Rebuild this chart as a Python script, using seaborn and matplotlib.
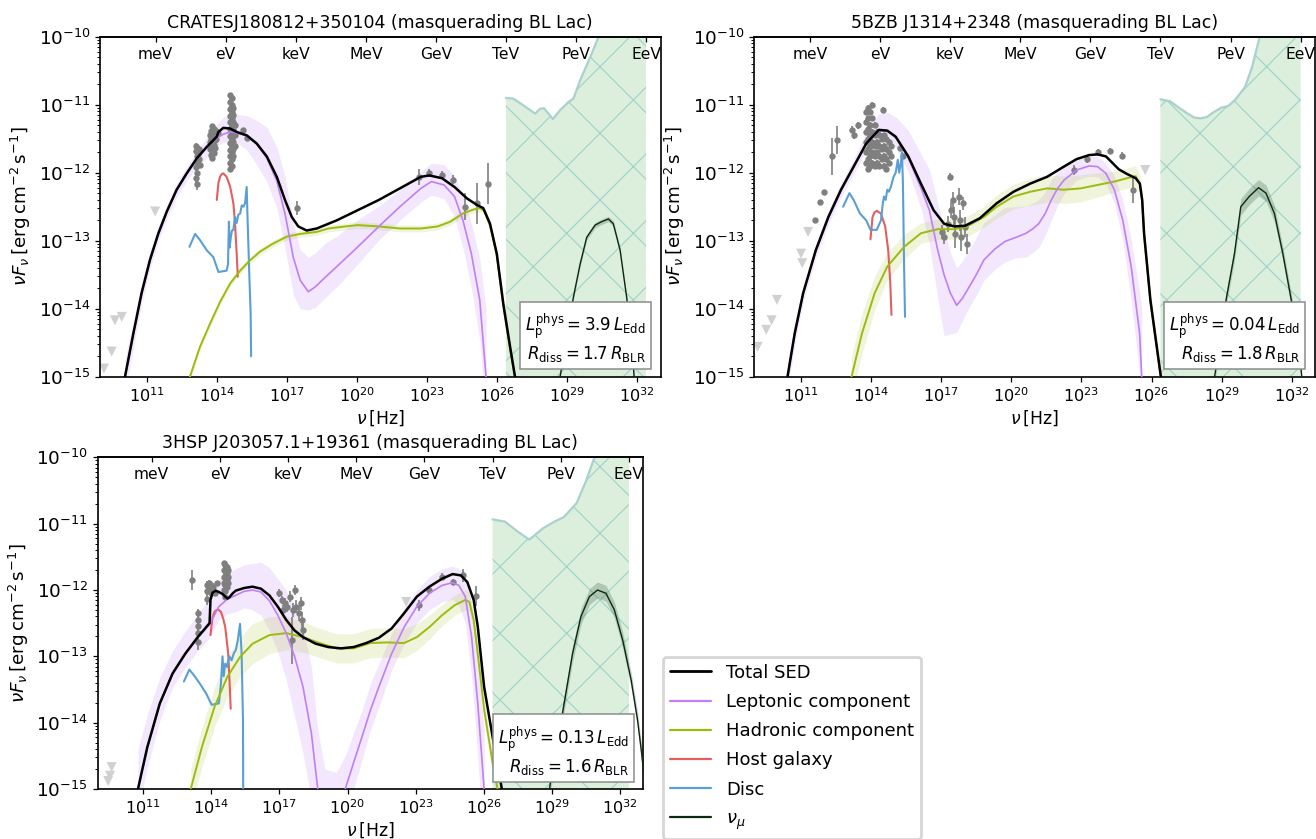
import numpy as np
import matplotlib
matplotlib.use("Agg")
import matplotlib.pyplot as plt
from matplotlib.lines import Line2D
from matplotlib.ticker import NullLocator, LogLocator
import seaborn as sns

sns.set_style("ticks", {"axes.edgecolor": "black", "xtick.color": "black", "ytick.color": "black",
                        "text.color": "black", "axes.labelcolor": "black"})
plt.rcParams["font.family"] = ["DejaVu Sans"]
plt.rcParams["mathtext.fontset"] = "dejavusans"
plt.rcParams["hatch.linewidth"] = 0.45

# every curve: (log10 nu [Hz], log10 nuFnu [erg cm^-2 s^-1])
titles = ["CRATESJ180812+350104 (masquerading BL Lac)",
          "5BZB J1314+2348 (masquerading BL Lac)",
          "3HSP J203057.1+19361 (masquerading BL Lac)"]
lp_phys = ["3.9", "0.04", "0.13"]
r_diss = ["1.7", "1.8", "1.6"]
energy_ticks = [1e-3, 1, 1e3, 1e6, 1e9, 1e12, 1e15, 1e18]
energy_labels = ["meV", "eV", "keV", "MeV", "GeV", "TeV", "PeV", "EeV"]

# ---------------- panel 1 ----------------
tot1 = [(10.07, -15.0), (10.43, -14.36), (10.78, -13.77), (11.14, -13.28), (11.50, -12.89), (11.86, -12.57),
        (12.28, -12.25), (12.71, -12.01), (13.14, -11.79), (13.57, -11.62), (14.0, -11.47), (14.07, -11.40),
        (14.28, -11.34), (14.57, -11.35), (14.85, -11.40), (15.28, -11.45), (15.71, -11.57), (16.14, -11.76),
        (16.57, -12.06), (16.92, -12.40), (17.21, -12.65), (17.49, -12.79), (17.85, -12.85), (18.28, -12.82),
        (19.14, -12.70), (20.04, -12.55), (20.94, -12.40), (21.84, -12.23), (22.74, -12.06), (23.10, -12.04),
        (23.64, -12.08), (24.18, -12.21), (24.72, -12.38), (25.17, -12.48), (25.41, -12.52), (25.70, -12.75),
        (25.99, -13.19), (26.27, -13.93), (26.56, -14.56), (26.77, -15.0)]
lep1 = [(10.07, -15.0), (10.43, -14.37), (10.78, -13.78), (11.14, -13.29), (11.50, -12.90), (11.86, -12.58),
        (12.28, -12.26), (12.71, -12.02), (13.14, -11.80), (13.57, -11.63), (14.0, -11.49), (14.3, -11.43),
        (14.6, -11.40), (14.9, -11.42), (15.28, -11.46), (15.71, -11.58), (16.14, -11.78), (16.57, -12.12),
        (16.92, -12.60), (17.28, -13.25), (17.57, -13.58), (17.92, -13.75), (18.21, -13.68), (18.7, -13.52),
        (19.14, -13.38), (20.04, -13.09), (20.94, -12.79), (21.84, -12.50), (22.74, -12.23), (23.19, -12.13),
        (23.73, -12.18), (24.18, -12.35), (24.54, -12.70), (24.90, -13.19), (25.26, -13.87), (25.53, -15.0)]
lep1_dhi = [0.25, 0.2, 0.15, 0.12, 0.1, 0.1, 0.1, 0.1, 0.12, 0.15, 0.2, 0.25, 0.25, 0.28, 0.3, 0.35, 0.45, 0.5,
            0.55, 0.5, 0.45, 0.5, 0.5, 0.5, 0.45, 0.4, 0.3, 0.25, 0.25, 0.27, 0.3, 0.3, 0.35, 0.45, 0.6, 1.0]
lep1_dlo = [0.25, 0.2, 0.15, 0.12, 0.1, 0.1, 0.1, 0.1, 0.12, 0.15, 0.12, 0.12, 0.12, 0.15, 0.2, 0.3, 0.35, 0.4,
            0.5, 0.55, 0.42, 0.27, 0.3, 0.3, 0.3, 0.25, 0.2, 0.2, 0.2, 0.2, 0.2, 0.3, 0.4, 0.5, 0.6, 0.5]
had1 = [(12.85, -15.0), (13.28, -14.56), (13.71, -14.22), (14.14, -13.90), (14.57, -13.63), (15.0, -13.44),
        (15.42, -13.29), (15.85, -13.16), (16.42, -13.04), (17.0, -12.94), (17.57, -12.90), (18.28, -12.87),
        (18.78, -12.82), (19.5, -12.79), (20.04, -12.77), (20.94, -12.79), (21.84, -12.82), (22.74, -12.82),
        (23.46, -12.79), (24.0, -12.72), (24.54, -12.60), (25.0, -12.54), (25.27, -12.52), (25.45, -12.56),
        (25.70, -12.78), (25.99, -13.22), (26.27, -13.96), (26.56, -14.6), (26.76, -15.0)]
had1_d = 0.05
host1 = [(14.0, -12.40), (14.07, -12.15), (14.14, -12.06), (14.21, -12.02), (14.28, -12.01), (14.42, -12.06),
         (14.57, -12.20), (14.71, -12.45), (14.78, -12.74), (14.85, -13.18), (14.90, -13.53)]
disc1 = [(12.83, -13.09), (13.07, -12.90), (13.28, -12.99), (13.57, -13.14), (13.85, -13.24), (14.07, -13.46),
         (14.42, -13.44), (14.48, -13.35), (14.52, -12.72), (14.55, -13.1), (14.6, -12.95), (14.65, -12.85),
         (14.71, -12.84), (14.78, -12.65), (14.85, -12.74), (14.92, -12.62), (15.0, -12.60), (15.07, -12.48),
         (15.14, -12.50), (15.21, -12.45), (15.28, -12.21), (15.32, -12.70), (15.40, -13.58), (15.45, -14.07),
         (15.47, -14.70)]
nu1 = [(28.70, -15.0), (28.99, -14.42), (29.27, -13.83), (29.56, -13.34), (29.84, -12.95), (30.20, -12.77),
       (30.48, -12.72), (30.77, -12.68), (30.98, -12.75), (31.27, -13.14), (31.55, -13.83), (31.77, -14.51),
       (31.87, -15.0)]
nu1_d = 0.04
sens1 = [(26.38, -10.90), (26.70, -10.91), (27.13, -11.01), (27.63, -11.13), (27.84, -11.06), (28.01, -11.05),
         (28.39, -11.21), (28.70, -11.08), (29.06, -10.96), (29.27, -10.91), (29.56, -10.64), (29.99, -10.30),
         (30.35, -10.0), (31.3, -9.5), (32.38, -9.0)]
ul1 = [(11.36, -12.57), (9.64, -14.17), (9.93, -14.12), (9.50, -14.63), (9.17, -14.88)]
# data points: (log nu, log nuFnu, log error)
pts1 = [(13.10, -11.60, 0.04), (13.12, -11.68, 0.04), (13.14, -11.76, 0.04), (13.16, -11.84, 0.04),
        (13.12, -11.92, 0.05), (13.15, -12.00, 0.06), (13.13, -12.08, 0.08), (13.14, -12.16, 0.1),
        (13.20, -11.72, 0.04), (13.24, -11.80, 0.04), (13.27, -11.88, 0.04), (13.22, -11.65, 0.04),
        (13.72, -11.45, 0.04), (13.72, -11.55, 0.04), (13.72, -11.65, 0.04), (13.75, -11.38, 0.04),
        (13.75, -11.50, 0.04), (13.75, -11.62, 0.04), (13.75, -11.74, 0.04), (13.80, -11.32, 0.04),
        (13.80, -11.44, 0.04), (13.80, -11.56, 0.04), (13.80, -11.68, 0.04), (13.80, -11.78, 0.04),
        (13.86, -11.35, 0.04), (13.86, -11.47, 0.04), (13.86, -11.59, 0.04), (13.86, -11.71, 0.04),
        (13.92, -11.40, 0.04), (13.92, -11.52, 0.04), (13.92, -11.64, 0.04), (13.98, -11.38, 0.04),
        (13.98, -11.50, 0.04), (14.04, -11.42, 0.04),
        (14.57, -10.86, 0.04), (14.57, -10.96, 0.04), (14.57, -11.06, 0.04), (14.57, -11.16, 0.04),
        (14.57, -11.26, 0.04), (14.57, -11.36, 0.04), (14.57, -11.46, 0.04), (14.57, -11.56, 0.04),
        (14.57, -11.66, 0.04), (14.57, -11.76, 0.04), (14.57, -11.86, 0.04), (14.57, -11.94, 0.04),
        (14.64, -10.90, 0.04), (14.64, -11.00, 0.04), (14.64, -11.10, 0.04), (14.64, -11.20, 0.04),
        (14.64, -11.30, 0.04), (14.64, -11.40, 0.04), (14.64, -11.50, 0.04), (14.64, -11.60, 0.04),
        (14.64, -11.70, 0.04), (14.64, -11.80, 0.04), (14.64, -11.90, 0.04),
        (14.71, -11.05, 0.04), (14.71, -11.15, 0.04), (14.71, -11.25, 0.04), (14.71, -11.35, 0.04),
        (14.71, -11.45, 0.04), (14.71, -11.55, 0.04), (14.71, -11.65, 0.04), (14.71, -11.75, 0.04),
        (14.78, -11.30, 0.04), (14.78, -11.45, 0.04), (14.78, -11.60, 0.04),
        (15.14, -11.37, 0.03), (15.28, -11.49, 0.03), (17.42, -12.52, 0.1),
        (22.65, -12.06, 0.12), (23.10, -12.00, 0.06), (23.64, -12.03, 0.06), (24.10, -12.10, 0.06),
        (24.63, -12.50, 0.2), (25.14, -12.45, 0.3), (25.63, -12.16, 0.3)]

# ---------------- panel 2 ----------------
tot2 = [(10.42, -15.0), (10.73, -14.36), (11.09, -13.77), (11.63, -13.14), (12.17, -12.65), (12.71, -12.25),
        (13.25, -11.91), (13.79, -11.57), (14.33, -11.37), (14.69, -11.38), (15.05, -11.47), (15.59, -11.76),
        (16.13, -12.16), (16.67, -12.55), (17.12, -12.75), (17.57, -12.79), (18.02, -12.78), (18.65, -12.67),
        (19.37, -12.45), (20.09, -12.28), (20.81, -12.16), (21.53, -12.06), (22.25, -11.91), (22.79, -11.80),
        (23.33, -11.74), (23.69, -11.73), (24.05, -11.76), (24.60, -11.95), (24.96, -12.02), (25.32, -12.08),
        (25.50, -12.16), (25.60, -12.40), (25.68, -12.89), (25.95, -13.87), (26.20, -14.5), (26.40, -15.0)]
lep2 = [(10.42, -15.0), (10.73, -14.37), (11.09, -13.78), (11.63, -13.15), (12.17, -12.66), (12.71, -12.26),
        (13.25, -11.92), (13.79, -11.58), (14.33, -11.38), (14.69, -11.39), (15.05, -11.48), (15.59, -11.78),
        (16.13, -12.22), (16.49, -12.55), (16.85, -13.14), (17.12, -13.50), (17.39, -13.77), (17.66, -13.95),
        (17.90, -13.85), (18.11, -13.73), (18.50, -13.50), (18.83, -13.28), (19.30, -13.12), (19.73, -13.01),
        (20.20, -12.95), (20.63, -12.89), (20.90, -12.83), (21.17, -12.75), (21.45, -12.60), (21.71, -12.40),
        (21.98, -12.23), (22.25, -12.11), (22.79, -11.96), (23.33, -11.90), (23.69, -11.91), (24.05, -12.01),
        (24.41, -12.25), (24.77, -12.70), (25.13, -13.38), (25.49, -14.36), (25.58, -15.0)]
lep2_dhi = [0.2, 0.15, 0.12, 0.1, 0.1, 0.1, 0.12, 0.18, 0.25, 0.28, 0.3, 0.4, 0.5, 0.6, 0.7, 0.7, 0.6, 0.55,
            0.55, 0.55, 0.55, 0.55, 0.5, 0.5, 0.45, 0.4, 0.38, 0.35, 0.32, 0.3, 0.25, 0.2, 0.15, 0.15, 0.15, 0.15,
            0.2, 0.3, 0.4, 0.6, 1.0]
lep2_dlo = [0.2, 0.15, 0.12, 0.1, 0.1, 0.1, 0.1, 0.1, 0.1, 0.12, 0.15, 0.2, 0.3, 0.5, 0.7, 0.9, 0.6, 0.4,
            0.33, 0.3, 0.3, 0.3, 0.3, 0.3, 0.3, 0.35, 0.35, 0.35, 0.32, 0.3, 0.25, 0.2, 0.15, 0.15, 0.15, 0.15,
            0.2, 0.3, 0.5, 0.6, 0.5]
had2 = [(13.16, -15.0), (13.61, -14.36), (14.15, -13.77), (14.69, -13.38), (15.41, -13.09), (16.13, -12.89),
        (16.85, -12.83), (17.57, -12.83), (18.11, -12.79), (18.83, -12.65), (19.37, -12.50), (20.09, -12.35),
        (20.81, -12.28), (21.53, -12.23), (22.25, -12.25), (22.97, -12.23), (23.69, -12.18), (24.41, -12.13),
        (24.96, -12.08), (25.32, -12.05), (25.50, -12.17), (25.60, -12.42), (25.68, -12.9), (25.95, -13.88),
        (26.20, -14.5), (26.39, -15.0)]
had2_d = [0.3, 0.3, 0.25, 0.2, 0.18, 0.15, 0.15, 0.15, 0.15, 0.15, 0.17, 0.18, 0.2, 0.2, 0.2, 0.2, 0.18, 0.15,
          0.15, 0.15, 0.15, 0.15, 0.15, 0.15, 0.15, 0.15]
host2 = [(13.97, -12.98), (14.06, -12.65), (14.15, -12.58), (14.24, -12.56), (14.42, -12.60), (14.60, -12.79),
         (14.73, -13.14), (14.82, -13.63), (14.87, -14.09)]
disc2 = [(12.80, -12.50), (13.07, -12.30), (13.25, -12.40), (13.52, -12.60), (13.79, -12.70), (13.97, -12.84),
         (14.24, -12.84), (14.42, -12.70), (14.50, -12.45), (14.55, -12.35), (14.62, -12.40), (14.69, -12.25),
         (14.76, -12.28), (14.84, -12.21), (14.96, -12.06), (15.05, -12.0), (15.14, -11.81), (15.20, -12.0),
         (15.27, -11.86), (15.32, -11.70), (15.36, -12.16), (15.41, -13.38), (15.45, -14.12)]
nu2 = [(28.70, -15.0), (29.19, -13.87), (29.55, -13.19), (29.82, -12.50), (30.18, -12.35), (30.58, -12.22),
       (30.90, -12.30), (31.26, -12.60), (31.62, -13.19), (31.98, -13.87), (32.25, -14.41), (32.43, -15.0)]
nu2_d = [0.1, 0.1, 0.1, 0.12, 0.12, 0.12, 0.12, 0.12, 0.1, 0.1, 0.1, 0.1]
sens2 = [(26.38, -10.92), (26.80, -10.95), (27.12, -11.03), (27.50, -11.12), (27.84, -11.19), (28.10, -11.20),
         (28.37, -11.18), (28.70, -11.10), (29.01, -11.04), (29.28, -11.02), (29.60, -10.92), (30.0, -10.74),
         (30.30, -10.45), (30.63, -10.0), (31.5, -9.5), (32.38, -9.0)]
ul2 = [(9.14, -14.56), (9.51, -14.31), (9.74, -14.17), (9.97, -13.87), (11.0, -13.19), (11.05, -13.33),
       (11.30, -12.87), (25.73, -11.96)]
pts2 = [(11.59, -12.70, 0.03), (11.81, -12.43, 0.03), (11.99, -12.28, 0.03), (12.31, -11.76, 0.27),
        (12.53, -11.52, 0.2), (13.16, -11.37, 0.05), (13.25, -11.45, 0.05), (13.43, -11.30, 0.05),
        (13.80, -11.10, 0.04), (13.80, -11.25, 0.04), (13.80, -11.40, 0.04), (13.80, -11.55, 0.04),
        (13.80, -11.70, 0.04), (13.80, -11.85, 0.04),
        (13.88, -11.05, 0.04), (13.88, -11.20, 0.04), (13.88, -11.35, 0.04), (13.88, -11.50, 0.04),
        (13.88, -11.65, 0.04), (13.88, -11.80, 0.04), (13.88, -11.95, 0.04),
        (13.96, -11.10, 0.04), (13.96, -11.30, 0.04), (13.96, -11.45, 0.04), (13.96, -11.60, 0.04),
        (13.96, -11.75, 0.04), (13.96, -11.90, 0.04),
        (14.05, -11.00, 0.04), (14.05, -11.20, 0.04), (14.05, -11.40, 0.04), (14.05, -11.55, 0.04),
        (14.05, -11.70, 0.04), (14.05, -11.85, 0.04),
        (14.15, -11.30, 0.04), (14.15, -11.45, 0.04), (14.15, -11.60, 0.04), (14.15, -11.75, 0.04),
        (14.15, -11.90, 0.04), (14.25, -11.40, 0.04), (14.25, -11.55, 0.04), (14.25, -11.70, 0.04),
        (14.25, -11.85, 0.04), (14.35, -11.45, 0.04), (14.35, -11.60, 0.04), (14.35, -11.75, 0.04),
        (14.35, -11.90, 0.04), (14.45, -11.50, 0.04), (14.45, -11.65, 0.04), (14.45, -11.80, 0.04),
        (14.51, -11.08, 0.04), (14.55, -11.45, 0.04), (14.55, -11.60, 0.04), (14.55, -11.75, 0.04),
        (14.55, -11.90, 0.04), (14.65, -11.50, 0.04), (14.65, -11.65, 0.04), (14.65, -11.80, 0.04),
        (14.65, -11.95, 0.04), (14.75, -11.55, 0.04), (14.75, -11.70, 0.04), (14.75, -11.85, 0.04),
        (14.85, -11.60, 0.04), (14.85, -11.75, 0.04),
        (15.23, -11.64, 0.03), (15.37, -11.76, 0.03),
        (17.03, -12.87, 0.1), (17.10, -12.95, 0.1), (17.39, -12.06, 0.05), (17.42, -12.55, 0.12),
        (17.50, -12.40, 0.12), (17.55, -12.65, 0.15), (17.60, -12.90, 0.2), (17.75, -12.35, 0.12),
        (17.80, -12.70, 0.15), (17.85, -12.95, 0.2), (18.0, -12.80, 0.15), (18.1, -13.05, 0.15),
        (17.30, -12.75, 0.12), (17.95, -12.45, 0.1),
        (22.70, -11.96, 0.08), (23.24, -11.80, 0.05), (23.69, -11.69, 0.04), (24.23, -11.68, 0.04),
        (24.72, -11.75, 0.05), (25.22, -12.25, 0.2)]

# ---------------- panel 3 ----------------
tot3 = [(10.78, -15.0), (11.19, -14.37), (11.74, -13.71), (12.30, -13.26), (12.86, -12.96), (13.41, -12.71),
        (13.93, -12.50), (13.97, -12.15), (14.06, -12.04), (14.20, -12.01), (14.34, -12.03), (14.50, -12.06),
        (14.62, -12.10), (14.72, -12.13), (14.80, -12.11), (14.95, -12.05), (15.08, -12.01), (15.45, -11.97),
        (15.82, -11.95), (16.19, -11.98), (16.56, -12.08), (16.93, -12.25), (17.30, -12.45), (17.67, -12.61),
        (18.04, -12.71), (18.60, -12.81), (19.15, -12.86), (19.71, -12.88), (20.27, -12.86), (20.82, -12.80),
        (21.38, -12.72), (21.94, -12.58), (22.49, -12.35), (23.05, -12.10), (23.60, -11.95), (24.16, -11.83),
        (24.62, -11.76), (24.99, -11.78), (25.27, -11.88), (25.55, -12.15), (25.73, -12.55), (26.01, -13.46),
        (26.38, -14.21), (26.79, -15.0)]
lep3 = [(10.78, -15.0), (11.19, -14.38), (11.74, -13.72), (12.30, -13.27), (12.86, -12.97), (13.41, -12.72),
        (13.93, -12.52), (14.34, -12.25), (14.70, -12.14), (15.08, -12.08), (15.45, -12.02), (15.82, -12.00),
        (16.19, -12.03), (16.56, -12.16), (16.93, -12.38), (17.30, -12.65), (17.67, -13.00), (18.04, -13.46),
        (18.41, -14.16), (18.69, -15.0), (19.0, -15.6), (19.5, -15.7), (19.90, -15.0), (20.27, -14.6),
        (20.64, -14.21), (21.0, -13.82), (21.38, -13.46), (21.94, -12.96), (22.49, -12.56), (23.05, -12.25),
        (23.60, -12.05), (24.16, -11.93), (24.62, -11.89), (24.90, -11.93), (25.18, -12.10), (25.46, -12.71),
        (25.73, -13.71), (26.01, -15.0)]
lep3_dhi = [0.6, 0.5, 0.4, 0.35, 0.35, 0.35, 0.4, 0.4, 0.4, 0.4, 0.4, 0.4, 0.45, 0.5, 0.55, 0.65, 0.75, 0.9,
            1.0, 0.9, 0.9, 0.95, 0.5, 0.45, 0.4, 0.4, 0.35, 0.3, 0.3, 0.25, 0.25, 0.25, 0.25, 0.25, 0.3, 0.5,
            0.7, 0.9]
lep3_dlo = [0.3, 0.3, 0.25, 0.2, 0.2, 0.2, 0.2, 0.2, 0.22, 0.25, 0.25, 0.3, 0.35, 0.45, 0.55, 0.7, 0.9, 1.0,
            1.0, 1.0, 0.5, 0.5, 0.5, 0.4, 0.35, 0.3, 0.3, 0.25, 0.25, 0.25, 0.25, 0.25, 0.25, 0.3, 0.4, 0.6,
            0.8, 1.0]
had3 = [(13.10, -15.0), (13.60, -14.36), (14.15, -13.76), (14.71, -13.31), (15.27, -13.01), (15.82, -12.81),
        (16.56, -12.68), (17.30, -12.65), (18.04, -12.71), (18.78, -12.80), (19.52, -12.88), (20.27, -12.88),
        (21.01, -12.80), (21.75, -12.79), (22.49, -12.80), (23.05, -12.71), (23.60, -12.56), (24.16, -12.38),
        (24.71, -12.23), (25.18, -12.15), (25.36, -12.18), (25.55, -12.45), (25.73, -12.96), (26.01, -13.8),
        (26.38, -14.6), (26.60, -15.0)]
had3_d = [0.3, 0.3, 0.3, 0.3, 0.3, 0.3, 0.28, 0.25, 0.23, 0.22, 0.22, 0.22, 0.22, 0.22, 0.22, 0.2, 0.18, 0.16,
          0.15, 0.15, 0.15, 0.15, 0.15, 0.15, 0.15, 0.15]
host3 = [(13.97, -12.68), (14.06, -12.41), (14.15, -12.33), (14.24, -12.30), (14.33, -12.30), (14.43, -12.33),
         (14.52, -12.42), (14.62, -12.56), (14.75, -12.96), (14.82, -13.46), (14.86, -13.79)]
disc3 = [(12.80, -13.38), (13.04, -13.20), (13.23, -13.28), (13.50, -13.41), (13.78, -13.56), (14.02, -13.73),
         (14.34, -13.71), (14.43, -13.41), (14.50, -13.0), (14.55, -13.3), (14.62, -13.11), (14.70, -13.16),
         (14.80, -13.0), (14.90, -13.06), (15.0, -12.95), (15.08, -12.91), (15.17, -12.76), (15.27, -12.51),
         (15.34, -12.96), (15.40, -13.96), (15.41, -15.0)]
nu3 = [(28.88, -15.0), (29.16, -14.46), (29.53, -13.71), (29.90, -12.96), (30.27, -12.40), (30.64, -12.10),
       (31.0, -12.0), (31.37, -12.05), (31.74, -12.30), (32.11, -12.76), (32.48, -13.36), (32.76, -13.96),
       (32.94, -14.46), (33.10, -15.0)]
nu3_d = 0.12
sens3 = [(26.38, -10.935), (26.93, -10.97), (27.49, -11.12), (28.0, -11.24), (28.6, -11.07), (29.1, -10.97),
         (29.52, -10.90), (30.08, -10.69), (30.5, -10.35), (30.82, -10.04), (31.5, -9.6), (32.38, -9.0)]
ul3 = [(9.62, -14.67), (9.55, -14.80), (9.47, -14.88), (22.58, -12.18)]
pts3 = [(13.14, -11.85, 0.15), (13.41, -12.35, 0.06), (13.43, -12.45, 0.06), (13.40, -12.55, 0.08),
        (13.42, -12.65, 0.1), (13.41, -12.78, 0.12),
        (13.82, -11.92, 0.05), (13.82, -12.02, 0.05), (13.82, -12.14, 0.08), (13.90, -11.90, 0.05),
        (13.90, -12.00, 0.05), (13.98, -11.92, 0.05), (13.98, -12.05, 0.05), (14.06, -11.95, 0.05),
        (14.25, -11.90, 0.04), (14.18, -12.05, 0.04),
        (14.55, -11.60, 0.04), (14.55, -11.70, 0.04), (14.55, -11.80, 0.04), (14.55, -11.90, 0.04),
        (14.55, -12.00, 0.04), (14.62, -11.62, 0.04), (14.62, -11.72, 0.04), (14.62, -11.82, 0.04),
        (14.62, -11.92, 0.04), (14.62, -12.02, 0.04), (14.62, -12.10, 0.04), (14.69, -11.65, 0.04),
        (14.69, -11.75, 0.04), (14.69, -11.85, 0.04), (14.69, -11.95, 0.04), (14.76, -11.70, 0.04),
        (14.76, -11.80, 0.04), (14.76, -11.90, 0.04),
        (17.0, -12.05, 0.06), (17.1, -12.15, 0.06), (17.25, -12.2, 0.08), (17.35, -12.25, 0.08),
        (17.54, -12.76, 0.35), (17.6, -12.3, 0.1), (17.75, -12.25, 0.1), (17.85, -12.35, 0.12),
        (17.95, -12.2, 0.1), (18.0, -12.45, 0.12), (18.05, -12.6, 0.15), (17.45, -12.1, 0.08),
        (17.7, -12.0, 0.08), (17.15, -12.3, 0.08),
        (23.13, -12.23, 0.08), (23.60, -12.0, 0.05), (24.16, -11.80, 0.05), (24.62, -11.88, 0.05),
        (25.08, -11.78, 0.1), (25.64, -12.09, 0.15)]

C_TOT, C_LEP, C_HAD = "black", "#bf7ff5", "#9cbb0f"
C_HOST, C_DISC, C_NU = "#e35f5f", "#5a9fd4", "#0c2910"
H_EV = 4.135667e-15


def arr(pts):
    a = np.array(pts, dtype=float)
    return a[:, 0], a[:, 1]


def line(ax, pts, color, lw, z):
    x, y = arr(pts)
    sns.lineplot(x=10 ** x, y=10 ** y, ax=ax, color=color, lw=lw, sort=False, estimator=None, zorder=z)


def band(ax, pts, dlo, dhi, color, alpha, z):
    x, y = arr(pts)
    ax.fill_between(10 ** x, 10 ** (y - np.asarray(dlo)), 10 ** (y + np.asarray(dhi)),
                    color=color, alpha=alpha, lw=0, zorder=z)


def panel(ax, title, tot, lep, lep_dlo, lep_dhi, had, had_d, host, disc, nu, nu_d, sens, ul, pts, lp, rd):
    ax.set_xscale("log")
    ax.set_yscale("log")
    # neutrino sensitivity region
    sx, sy = arr(sens)
    ax.fill_between(10 ** sx, 1e-16, 10 ** sy, facecolor="#dcefdc", edgecolor="#a3d4cb",
                    hatch="x", lw=0, zorder=0.5)
    sns.lineplot(x=10 ** sx, y=10 ** sy, ax=ax, color="#a9d2cd", lw=0.8, sort=False, estimator=None, zorder=0.6)

    band(ax, lep, lep_dlo, lep_dhi, C_LEP, 0.18, 1)
    band(ax, had, had_d, had_d, C_HAD, 0.15, 1.1)
    band(ax, nu, nu_d, nu_d, "#4d6b55", 0.3, 1.2)

    ux, uy = arr(ul)
    sns.scatterplot(x=10 ** ux, y=10 ** uy, ax=ax, marker="v", s=13, color="#d0d0d0",
                    edgecolor="none", zorder=2)
    p = np.array(pts, dtype=float)
    f = 10 ** p[:, 1]
    ax.errorbar(10 ** p[:, 0], f, yerr=[f - 10 ** (p[:, 1] - p[:, 2]), 10 ** (p[:, 1] + p[:, 2]) - f],
                fmt="o", ms=2.3, mew=0, color="#7f7f7f", elinewidth=0.6, capsize=0, zorder=2.5)

    line(ax, host, C_HOST, 0.75, 3)
    line(ax, disc, C_DISC, 0.75, 3)
    line(ax, had, C_HAD, 0.7, 3.5)
    line(ax, lep, C_LEP, 0.6, 3.5)
    line(ax, nu, C_NU, 0.5, 3.6)
    line(ax, tot, C_TOT, 0.9, 4)

    ax.set_xlim(1e9, 1e33)
    ax.set_ylim(1e-15, 1e-10)
    ax.set_xticks([10.0 ** k for k in range(11, 33, 3)])
    ax.xaxis.set_minor_locator(NullLocator())
    ax.set_yticks([10.0 ** k for k in range(-15, -9)])
    ax.yaxis.set_minor_locator(LogLocator(base=10, subs=np.arange(2, 10), numticks=20))
    ax.tick_params(axis="both", which="major", length=1.75, width=0.45)
    ax.tick_params(axis="y", which="minor", length=1.0, width=0.35)
    ax.tick_params(axis="y", labelsize=6.6, pad=1.7)
    ax.tick_params(axis="x", labelsize=5.8, pad=1.7)
    for s in ax.spines.values():
        s.set_linewidth(0.6)
        s.set_visible(True)

    sec = ax.secondary_xaxis("top", functions=(lambda x: x * H_EV, lambda e: e / H_EV))
    sec.set_xticks(energy_ticks, labels=energy_labels)
    sec.xaxis.set_minor_locator(NullLocator())
    sec.tick_params(axis="x", direction="in", pad=-9, labelsize=5.6, length=1.75, width=0.45)
    sec.spines["top"].set_linewidth(0.6)
    sec.set_zorder(6)

    ax.set_title(title, fontsize=6.25, pad=3.2)
    ax.set_xlabel(r"$\nu\,[\mathrm{Hz}]$", fontsize=6.2, labelpad=1.2)
    ax.set_ylabel(r"$\nu F_{\nu}\,[\mathrm{erg\,cm^{-2}\,s^{-1}}]$", fontsize=6.6, labelpad=2)

    txt = (r"$L_{\rm p}^{\rm phys} = " + lp + r"\,L_{\rm Edd}$" + "\n" +
           r"$R_{\rm diss} = " + rd + r"\,R_{\rm BLR}$")
    ax.text(0.974, 0.036, txt, transform=ax.transAxes, ha="right", va="bottom", fontsize=6.0,
            multialignment="right", zorder=10,
            bbox=dict(boxstyle="square,pad=0.3", fc="white", ec="#8c8c8c", lw=0.55))


fig = plt.figure(figsize=(6.58, 4.195), dpi=200)
ax1 = fig.add_axes([0.0760, 0.5510, 0.4259, 0.4052])
ax2 = fig.add_axes([0.5732, 0.5510, 0.4261, 0.4052])
ax3 = fig.add_axes([0.0741, 0.0596, 0.4145, 0.3953])

panel(ax1, titles[0], tot1, lep1, lep1_dlo, lep1_dhi, had1, had1_d, host1, disc1, nu1, nu1_d, sens1, ul1, pts1,
      lp_phys[0], r_diss[0])
panel(ax2, titles[1], tot2, lep2, lep2_dlo, lep2_dhi, had2, had2_d, host2, disc2, nu2, nu2_d, sens2, ul2, pts2,
      lp_phys[1], r_diss[1])
panel(ax3, titles[2], tot3, lep3, lep3_dlo, lep3_dhi, had3, had3_d, host3, disc3, nu3, nu3_d, sens3, ul3, pts3,
      lp_phys[2], r_diss[2])

handles = [Line2D([], [], color=C_TOT, lw=1.0), Line2D([], [], color=C_LEP, lw=0.8),
           Line2D([], [], color=C_HAD, lw=0.8), Line2D([], [], color=C_HOST, lw=0.8),
           Line2D([], [], color=C_DISC, lw=0.8), Line2D([], [], color=C_NU, lw=0.8)]
labels = ["Total SED", "Leptonic component", "Hadronic component", "Host galaxy", "Disc", r"$\nu_{\mu}$"]
fig.legend(handles, labels, loc="upper left", bbox_to_anchor=(0.5036, 0.2175), borderaxespad=0,
           fontsize=6.5, handlelength=2.3, labelspacing=0.62, frameon=True, edgecolor="0.8", fancybox=True)

fig.savefig("out.png", dpi=200)
